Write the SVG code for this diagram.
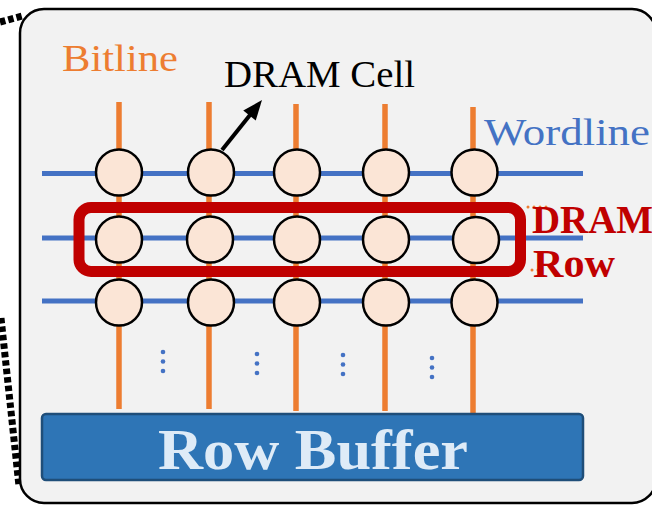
<svg xmlns="http://www.w3.org/2000/svg" width="652" height="505" viewBox="0 0 652 505">
<defs>
<style>
.bl{stroke:#ed7d31;stroke-width:5.5}
.wl{stroke:#4472c4;stroke-width:5}
.cell{fill:#fbe5d6;stroke:#000;stroke-width:2.5}
.dot{fill:#4472c4}
.serif{font-family:"Liberation Serif","Times New Roman",serif}
.odots{stroke:#ed7d31;stroke-width:3;stroke-linecap:round;stroke-dasharray:0 6}
</style>
</defs>
<rect width="652" height="505" fill="#ffffff"/>
<g id="dotted">
<line x1="0" y1="22" x2="22" y2="16" stroke="#000" stroke-width="7" stroke-dasharray="5.5 3"/>
<line x1="1" y1="318" x2="19" y2="486" stroke="#000" stroke-width="7" stroke-dasharray="5.5 3"/>
</g>
<g id="bank">
<rect x="20" y="9" width="636" height="494" rx="24" fill="#f2f2f2" stroke="#000" stroke-width="2.5"/>
</g>
<g id="connectors">
<line class="bl" x1="119" y1="102" x2="119" y2="409"/>
<line class="bl" x1="209" y1="102" x2="209" y2="409"/>
<line class="bl" x1="296" y1="104" x2="296" y2="411"/>
<line class="bl" x1="385" y1="104" x2="385" y2="411"/>
<line class="bl" x1="473" y1="107" x2="473" y2="415"/>
<line class="wl" x1="42" y1="173.5" x2="583" y2="173.5"/>
<line class="wl" x1="42" y1="238" x2="583" y2="238"/>
<line class="wl" x1="42" y1="301" x2="583" y2="301"/>
<line x1="222" y1="150" x2="250" y2="115" stroke="#000" stroke-width="4"/>
<polygon points="262,100 255.75,120.6 243.25,110.6" fill="#000"/>
</g>
<g id="dram-row">
<rect x="79" y="207.5" width="441.5" height="64" rx="12" fill="none" stroke="#c00000" stroke-width="11"/>
<line class="odots" x1="528" y1="207" x2="550" y2="207"/>
<line class="odots" x1="532" y1="270" x2="544" y2="270"/>
</g>
<g id="cells">
<circle class="cell" cx="119" cy="172.5" r="23"/>
<circle class="cell" cx="211" cy="172.5" r="23"/>
<circle class="cell" cx="297" cy="172.5" r="23"/>
<circle class="cell" cx="386" cy="172.5" r="23"/>
<circle class="cell" cx="474.5" cy="172.5" r="23"/>
<circle class="cell" cx="119" cy="239.5" r="23"/>
<circle class="cell" cx="210" cy="239.5" r="23"/>
<circle class="cell" cx="297" cy="239.5" r="23"/>
<circle class="cell" cx="386" cy="239.5" r="23"/>
<circle class="cell" cx="476" cy="240" r="23"/>
<circle class="cell" cx="119" cy="302.5" r="23"/>
<circle class="cell" cx="211" cy="302.5" r="23"/>
<circle class="cell" cx="297" cy="302.5" r="23"/>
<circle class="cell" cx="386" cy="302.5" r="23"/>
<circle class="cell" cx="474.5" cy="302.5" r="23"/>
</g>
<g id="ellipses">
<circle class="dot" cx="163" cy="352" r="2.3"/><circle class="dot" cx="163" cy="361.5" r="2.3"/><circle class="dot" cx="163" cy="371" r="2.3"/>
<circle class="dot" cx="257" cy="354" r="2.3"/><circle class="dot" cx="257" cy="363.5" r="2.3"/><circle class="dot" cx="257" cy="373" r="2.3"/>
<circle class="dot" cx="343" cy="355" r="2.3"/><circle class="dot" cx="343" cy="364.5" r="2.3"/><circle class="dot" cx="343" cy="374" r="2.3"/>
<circle class="dot" cx="432" cy="358" r="2.3"/><circle class="dot" cx="432" cy="367.5" r="2.3"/><circle class="dot" cx="432" cy="377" r="2.3"/>
</g>
<g id="row-buffer">
<rect x="42" y="414" width="541" height="66" rx="4" fill="#2e75b6" stroke="#1f4e79" stroke-width="2.5"/>
<text class="serif" x="158" y="469" font-size="58" font-weight="bold" fill="#deebf7" textLength="310" lengthAdjust="spacingAndGlyphs">Row Buffer</text>
</g>
<g id="labels">
<text class="serif" x="62" y="71" font-size="38" fill="#ed7d31" textLength="116" lengthAdjust="spacingAndGlyphs">Bitline</text>
<text class="serif" x="224" y="87" font-size="38" fill="#000" textLength="191" lengthAdjust="spacingAndGlyphs">DRAM Cell</text>
<text class="serif" x="484" y="145" font-size="38" fill="#4472c4" textLength="166" lengthAdjust="spacingAndGlyphs">Wordline</text>
<text class="serif" x="532" y="233" font-size="41" font-weight="bold" fill="#c00000" textLength="121" lengthAdjust="spacingAndGlyphs">DRAM</text>
<text class="serif" x="533" y="277" font-size="41" font-weight="bold" fill="#c00000" textLength="82" lengthAdjust="spacingAndGlyphs">Row</text>
</g>
</svg>
